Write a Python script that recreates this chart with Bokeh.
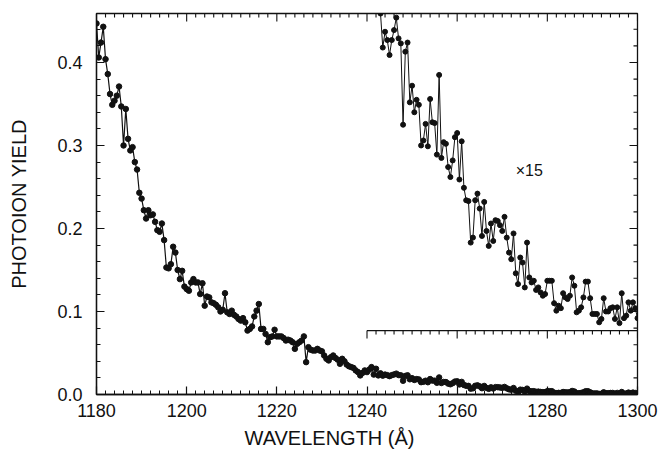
import numpy as np
from bokeh.plotting import figure
from bokeh.models import (FixedTicker, PrintfTickFormatter, Title,
                          Range1d, Label, ColumnDataSource)
from bokeh.embed import file_html
from bokeh.resources import INLINE

# ---------------- data ----------------
wl_start = 1180.0
wl_step = 0.5

# photoion yield, 1180.0 .. 1242.5 A (0.5 A steps)
yield_main = [
    0.447, 0.406, 0.424, 0.443, 0.404, 0.386, 0.362, 0.349, 0.354, 0.360,
    0.371, 0.347, 0.300, 0.344, 0.308, 0.294, 0.298, 0.280, 0.271, 0.243,
    0.236, 0.222, 0.212, 0.222, 0.216, 0.217, 0.208, 0.198, 0.196, 0.206,
    0.186, 0.153, 0.152, 0.157, 0.178, 0.171, 0.150, 0.139, 0.149, 0.130,
    0.127, 0.125, 0.135, 0.139, 0.135, 0.135, 0.121, 0.134, 0.107, 0.118,
    0.117, 0.111, 0.110, 0.108, 0.105, 0.100, 0.102, 0.122, 0.099, 0.097,
    0.101, 0.096, 0.094, 0.091, 0.089, 0.092, 0.087, 0.077, 0.079, 0.082,
    0.094, 0.101, 0.109, 0.079, 0.079, 0.073, 0.063, 0.069, 0.070, 0.078,
    0.070, 0.070, 0.070, 0.068, 0.065, 0.066, 0.065, 0.063, 0.055, 0.061,
    0.063, 0.065, 0.070, 0.039, 0.057, 0.054, 0.053, 0.053, 0.055, 0.053,
    0.052, 0.047, 0.043, 0.041, 0.045, 0.047, 0.044, 0.042, 0.037, 0.043,
    0.040, 0.036, 0.034, 0.033, 0.032, 0.029, 0.027, 0.023, 0.026, 0.029,
    0.027, 0.030, 0.033, 0.024, 0.031, 0.023,
]

# yield x 15, 1243.0 .. 1300.0 A (0.5 A steps)
inset_start = 1243.0
yield_x15 = [
    0.382, 0.341, 0.360, 0.350, 0.332, 0.350, 0.362, 0.377, 0.352, 0.346,
    0.248, 0.336, 0.347, 0.275, 0.295, 0.263, 0.278, 0.272, 0.223, 0.229,
    0.249, 0.222, 0.279, 0.251, 0.250, 0.212, 0.308, 0.208, 0.227, 0.225,
    0.197, 0.185, 0.205, 0.233, 0.238, 0.182, 0.228, 0.172, 0.157, 0.156,
    0.106, 0.112, 0.157, 0.165, 0.147, 0.114, 0.155, 0.120, 0.102, 0.129,
    0.108, 0.133, 0.132, 0.127, 0.120, 0.137, 0.112, 0.094, 0.086, 0.117,
    0.069, 0.056, 0.088, 0.082, 0.052, 0.106, 0.064, 0.058, 0.060, 0.049,
    0.052, 0.046, 0.042, 0.044, 0.060, 0.060, 0.060, 0.033, 0.024, 0.030,
    0.027, 0.045, 0.040, 0.038, 0.042, 0.064, 0.054, 0.022, 0.024, 0.028,
    0.040, 0.059, 0.059, 0.039, 0.020, 0.020, 0.020, 0.010, 0.014, 0.039,
    0.023, 0.023, 0.027, 0.028, 0.014, 0.028, 0.009, 0.045, 0.015, 0.018,
    0.034, 0.024, 0.034, 0.027, 0.015,
]
inset_scale = 15
inset_offset = 0.077          # baseline of the magnified trace
inset_axis_start = 1240
inset_axis_end = 1300

x_ticks = [1180, 1200, 1220, 1240, 1260, 1280, 1300]
y_ticks = [0.0, 0.1, 0.2, 0.3, 0.4]
x_label = "WAVELENGTH (Å)"
y_label = "PHOTOION YIELD"
inset_label = "×15"

# ---------------- build ----------------
FONT = "Liberation Sans"
INK = "#111111"
x_min, x_max = 1180, 1300
y_min, y_max = 0.0, 0.459
FW, FH = 541, 381
MAJ, MIN = 8, 4

full_yield = list(yield_main) + [v / inset_scale for v in yield_x15]
wl_full = wl_start + wl_step * np.arange(len(full_yield))
wl_inset = inset_start + wl_step * np.arange(len(yield_x15))
inset_y = inset_offset + np.array(yield_x15)

p = figure(frame_width=FW, frame_height=FH, output_backend="svg",
           toolbar_location=None,
           x_range=Range1d(x_min, x_max), y_range=Range1d(y_min, y_max),
           min_border_left=96, min_border_right=25, min_border_top=13,
           min_border_bottom=67)
p.background_fill_color = "white"
p.border_fill_color = "white"
p.grid.visible = False
p.outline_line_color = INK
p.outline_line_width = 1.3

minor_x = list(range(x_min, x_max + 1, 2))
minor_y = [round(i * 0.02, 2) for i in range(0, 23)]

for ax in (p.xaxis[0], p.yaxis[0]):
    ax.axis_line_color = INK
    ax.axis_line_width = 1.3
    ax.major_tick_line_color = INK
    ax.minor_tick_line_color = INK
    ax.major_tick_line_width = 1.2
    ax.minor_tick_line_width = 1.0
    ax.major_tick_in = MAJ
    ax.major_tick_out = 0
    ax.minor_tick_in = MIN
    ax.minor_tick_out = 0
    ax.major_label_text_font = FONT
    ax.major_label_text_font_size = "18px"
    ax.major_label_text_color = INK

p.xaxis.ticker = FixedTicker(ticks=x_ticks, minor_ticks=minor_x)
p.yaxis.ticker = FixedTicker(ticks=y_ticks, minor_ticks=minor_y)
p.yaxis.formatter = PrintfTickFormatter(format="%.1f")
p.xaxis.major_label_standoff = 9
p.yaxis.major_label_standoff = 14
p.yaxis.axis_label = y_label
p.yaxis.axis_label_text_font = FONT
p.yaxis.axis_label_text_font_style = "normal"
p.yaxis.axis_label_text_font_size = "20px"
p.yaxis.axis_label_text_color = INK
p.yaxis.axis_label_standoff = 24

xt_title = Title(text=x_label, align="left", offset=148,
                 text_font=FONT, text_font_size="20px",
                 text_font_style="normal", text_color=INK, standoff=10)
p.add_layout(xt_title, "below")

# mirrored ticks on the top and right frame edges
px_x = (x_max - x_min) / FW
px_y = (y_max - y_min) / FH
tx = np.array(minor_x, dtype=float)
tx_len = np.where(np.isin(tx, x_ticks), MAJ * px_y, MIN * px_y)
p.segment(x0=tx, y0=np.full(len(tx), y_max), x1=tx, y1=y_max - tx_len,
          line_color=INK, line_width=1.1)
ty = np.array([v for v in minor_y if v <= y_max])
ty_len = np.where(np.isin(np.round(ty, 2), y_ticks), MAJ * px_x, MIN * px_x)
p.segment(x0=np.full(len(ty), x_max), y0=ty, x1=x_max - ty_len, y1=ty,
          line_color=INK, line_width=1.1)

# main trace
src = ColumnDataSource(dict(x=wl_full, y=full_yield))
p.line("x", "y", source=src, line_color=INK, line_width=1.2)
p.scatter("x", "y", source=src, size=5.5, fill_color=INK, line_color=INK)

# magnified (x15) trace
src2 = ColumnDataSource(dict(x=wl_inset, y=inset_y))
p.line("x", "y", source=src2, line_color=INK, line_width=1.0)
p.scatter("x", "y", source=src2, size=5, fill_color=INK, line_color=INK)

# baseline axis of the magnified trace
p.segment(x0=[inset_axis_start], y0=[inset_offset], x1=[inset_axis_end],
          y1=[inset_offset], line_color=INK, line_width=1.3)
tk = np.arange(inset_axis_start, inset_axis_end + 0.1, 2)
tk_len = np.where(np.isin(tk, x_ticks), MAJ * px_y, MIN * px_y)
p.segment(x0=tk, y0=np.full(len(tk), inset_offset), x1=tk,
          y1=inset_offset - tk_len, line_color=INK, line_width=1.1)

p.add_layout(Label(x=1273.0, y=0.270, text=inset_label, text_font=FONT,
                   text_font_size="16px", text_color=INK,
                   text_baseline="middle", text_align="left"))

open("out.html", "w").write(file_html(p, INLINE))
